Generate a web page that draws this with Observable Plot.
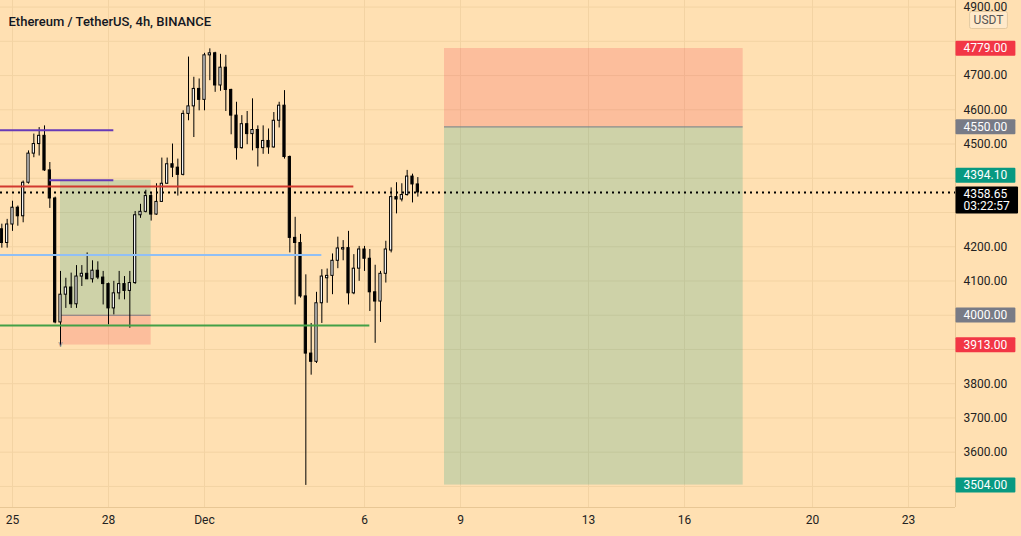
<!DOCTYPE html>
<html>
<head>
<meta charset="utf-8">
<script src="https://cdn.jsdelivr.net/npm/d3@7"></script>
<script src="https://cdn.jsdelivr.net/npm/@observablehq/plot@0.6"></script>
<style>
html, body { margin: 0; padding: 0; background: #FFE0B2; }
#chart svg { display: block; }
</style>
</head>
<body>
<div id="chart"></div>
<script>
// ---------- data ----------
const title = "Ethereum / TetherUS, 4h, BINANCE";
const firstBar = "2021-11-24T16:00:00Z";   // 4h bars, consecutive
const barHours = 4;
const opens  = [4251,4211,4265,4314,4289,4387,4472,4500,4524,4423,4341,3979,4060,4081,4032,4113,4121,4105,4130,4110,
                4091,4020,4064,4091,4071,4094,4292,4302,4348,4294,4331,4384,4441,4431,4410,4588,4610,4661,4629,4759,
                4765,4671,4723,4658,4583,4488,4558,4529,4541,4488,4509,4490,4568,4612,4462,4226,4211,4055,3888,3864,
                4035,4108,4115,4159,4192,4196,4064,4136,4192,4165,4067,4040,4121,4189,4345,4338,4351,4405,4382];
const highs  = [4266,4280,4333,4319,4392,4480,4529,4548,4553,4446,4345,4128,4108,4123,4145,4145,4182,4159,4156,4128,
                4094,4099,4128,4113,4128,4303,4324,4365,4358,4384,4459,4459,4500,4456,4597,4754,4695,4690,4765,4778,
                4768,4762,4759,4660,4622,4583,4595,4632,4553,4553,4544,4592,4622,4656,4465,4286,4236,4118,3976,4067,
                4133,4135,4179,4228,4218,4245,4177,4201,4201,4192,4146,4128,4216,4372,4387,4384,4423,4412,4402];
const lows   = [4196,4196,4245,4260,4270,4383,4460,4465,4420,4312,3975,3908,4020,4020,4020,4084,4104,4094,4104,4030,
                3972,4001,4045,4045,3962,4090,4283,4299,4275,4292,4331,4382,4402,4348,4407,4568,4519,4597,4597,4685,
                4651,4654,4595,4527,4453,4485,4498,4480,4433,4470,4470,4488,4547,4456,4182,4030,4050,3503,3825,3859,
                3976,4035,4060,4136,4159,4030,4060,4099,4128,4011,3918,3979,4094,4182,4296,4331,4348,4328,4345];
const closes = [4211,4265,4314,4289,4387,4472,4500,4524,4423,4341,3979,4060,4081,4032,4113,4121,4105,4130,4110,4091,
                4020,4064,4091,4071,4094,4292,4302,4348,4294,4331,4384,4441,4431,4410,4588,4610,4661,4629,4759,4765,
                4671,4723,4658,4583,4488,4558,4529,4541,4488,4509,4490,4568,4612,4462,4226,4211,4055,3888,3864,4035,
                4113,4115,4159,4195,4196,4064,4136,4192,4165,4067,4040,4121,4192,4345,4338,4351,4405,4382,4358.65];
const lastPrice = 4358.65;
const countdown = "03:22:57";

const xDomain = ["2021-11-24T15:00:00Z", "2021-12-24T11:15:00Z"];
const yDomain = [3438.5, 4919.2];
const xTickDates  = ["2021-11-25","2021-11-28","2021-12-01","2021-12-06","2021-12-09","2021-12-13","2021-12-16","2021-12-20","2021-12-23"];
const xTickLabels = ["25","28","Dec","6","9","13","16","20","23"];
const yGrid = [3500,3600,3700,3800,3900,4000,4100,4200,4300,4400,4500,4600,4700,4800,4900];
// price-scale labels not hidden behind a badge
const yTickLabels = [3600,3700,3800,4100,4200,4500,4600,4700,4900];

// horizontal drawn levels
const levelPrices = [4540, 4394.1, 4376, 4176, 3970];
const levelStarts = ["2021-11-24T15:00:00Z","2021-11-26T04:00:00Z","2021-11-24T15:00:00Z","2021-11-24T15:00:00Z","2021-11-24T15:00:00Z"];
const levelEnds   = ["2021-11-28T04:00:00Z","2021-11-28T04:00:00Z","2021-12-05T16:00:00Z","2021-12-04T16:00:00Z","2021-12-06T04:00:00Z"];
const levelColors = ["#673AB7","#673AB7","#D2392F","#90BFF5","#43A047"];

// position tools
const longStart = "2021-11-26T12:00:00Z", longEnd = "2021-11-29T08:00:00Z";
const longEntry = 4000, longTarget = 4394.10, longStop = 3913;
const shortStart = "2021-12-08T12:00:00Z", shortEnd = "2021-12-17T20:00:00Z";
const shortEntry = 4550, shortTarget = 3504, shortStop = 4779;

// right-axis price badges
const badgeValues = [4779, 4550, 4000, 3913, 3504];
const badgeColors = ["#F23645", "#787B86", "#787B86", "#F23645", "#089981"];
const targetBadge = 4394.10;

// ---------- build ----------
const t0 = new Date(firstBar);
const bars = opens.map((o, i) => ({
  t: new Date(+t0 + i * barHours * 3600e3), o, h: highs[i], l: lows[i], c: closes[i]
}));
const half = 50 * 60e3;
const up = bars.filter(d => d.c >= d.o), down = bars.filter(d => d.c < d.o);
const levels = levelPrices.map((p, i) => ({p, x1: new Date(levelStarts[i]), x2: new Date(levelEnds[i]), color: levelColors[i]}));
const zones = [
  {x1: new Date(longStart), x2: new Date(longEnd), y1: longEntry, y2: longTarget, color: "#089981"},
  {x1: new Date(longStart), x2: new Date(longEnd), y1: longStop, y2: longEntry, color: "#F23645"},
  {x1: new Date(shortStart), x2: new Date(shortEnd), y1: shortTarget, y2: shortEntry, color: "#089981"},
  {x1: new Date(shortStart), x2: new Date(shortEnd), y1: shortEntry, y2: shortStop, color: "#F23645"}
];
const entries = [
  {p: longEntry, x1: new Date(longStart), x2: new Date(longEnd)},
  {p: shortEntry, x1: new Date(shortStart), x2: new Date(shortEnd)}
];
const badges = badgeValues.map((v, i) => ({v, color: badgeColors[i]}));
const xTicks = xTickDates.map(d => new Date(d + "T00:00:00Z"));
const BADGE_FONT = "Roboto, Arial";
const UNIT_FONT = "Roboto, Helvetica";

const chart = Plot.plot({
  width: 1021, height: 536,
  marginTop: 0, marginRight: 66, marginBottom: 29, marginLeft: 0,
  style: {background: "#FFE0B2", fontFamily: "Roboto, sans-serif", fontSize: "12px", color: "#222"},
  x: {type: "utc", domain: xDomain.map(d => new Date(d)), axis: null},
  y: {domain: yDomain, axis: null},
  color: {type: "identity"},
  marks: [
    Plot.ruleY(yGrid, {stroke: "#F3D3A3", strokeWidth: 1}),
    Plot.ruleX(xTicks, {stroke: "#F3D3A3", strokeWidth: 1}),
    Plot.rect(zones, {x1: "x1", x2: "x2", y1: "y1", y2: "y2", fill: "color", fillOpacity: 0.2}),
    Plot.ruleY(entries, {y: "p", x1: "x1", x2: "x2", stroke: "#787B86", strokeWidth: 1}),
    Plot.ruleX(bars, {x: "t", y1: "l", y2: "h", stroke: "black", strokeWidth: 1}),
    Plot.rect(up, {x1: d => new Date(+d.t - half), x2: d => new Date(+d.t + half), y1: "o", y2: "c", fill: "white", stroke: "black", strokeWidth: 1}),
    Plot.rect(down, {x1: d => new Date(+d.t - half), x2: d => new Date(+d.t + half), y1: "o", y2: "c", fill: "black", stroke: "black", strokeWidth: 1}),
    Plot.ruleY(levels, {y: "p", x1: "x1", x2: "x2", stroke: "color", strokeWidth: 2}),
    Plot.ruleY([lastPrice], {stroke: "black", strokeWidth: 2, strokeDasharray: "2,4"}),
    Plot.text([bars[11]], {x: "t", y: () => 3915, text: () => "v", fill: "#8a8a8a", fontSize: 9}),
    Plot.ruleX([new Date(xDomain[1])], {stroke: "#E8C795"}),
    Plot.ruleY([yDomain[0]], {stroke: "#E8C795"}),
    Plot.axisX({ticks: xTicks, tickSize: 0, tickPadding: 8, label: null, fill: "#222",
      tickFormat: d => xTickLabels[xTicks.findIndex(t => +t === +d)]}),
    Plot.axisY({anchor: "right", ticks: yTickLabels, tickSize: 0, tickPadding: 8, label: null, fill: "#222",
      tickFormat: d3.format(".2f")}),
    Plot.text(badges, {frameAnchor: "right", y: "v", text: d => d3.format(".2f")(d.v), fill: "color",
      textAnchor: "start", dx: 8, fontFamily: BADGE_FONT}),
    Plot.text([targetBadge], {frameAnchor: "right", y: d => d, text: d => d3.format(".2f")(d), fill: () => "#089981",
      textAnchor: "start", dx: 8, dy: -5, fontFamily: BADGE_FONT}),
    Plot.text([lastPrice], {frameAnchor: "right", y: d => d, text: d => d3.format(".2f")(d) + "\n" + countdown,
      fill: () => "#000000", textAnchor: "start", dx: 8, dy: -3, lineAnchor: "top", lineHeight: 1.0, fontFamily: BADGE_FONT}),
    Plot.text(["USDT"], {frameAnchor: "top-right", text: d => d, dx: 33, dy: 15, textAnchor: "middle",
      fill: "#555", fontFamily: UNIT_FONT}),
    Plot.text([title], {frameAnchor: "top-left", text: d => d, dx: 8, dy: 16, textAnchor: "start",
      fontSize: 13, fontWeight: 500, fill: "#131722"})
  ]
});

document.getElementById("chart").append(chart);

const NS = "http://www.w3.org/2000/svg";
function boxify(sel, opts) {
  chart.querySelectorAll(sel).forEach(t => {
    const b = t.getBBox();
    const r = document.createElementNS(NS, "rect");
    r.setAttribute("x", b.x - opts.padX);
    r.setAttribute("y", b.y - opts.padY);
    r.setAttribute("width", b.width + 2 * opts.padX);
    r.setAttribute("height", b.height + 2 * opts.padY);
    r.setAttribute("rx", opts.rx);
    r.setAttribute("fill", opts.fill || t.getAttribute("fill"));
    if (opts.stroke) r.setAttribute("stroke", opts.stroke);
    const tr = t.getAttribute("transform");
    if (tr) r.setAttribute("transform", tr);
    t.parentNode.insertBefore(r, t);
    if (opts.textFill) t.setAttribute("fill", opts.textFill);
  });
}
boxify(`g[font-family="${BADGE_FONT}"] text`, {padX: 8, padY: 0.5, rx: 1, textFill: "white"});
boxify(`g[font-family="${UNIT_FONT}"] text`, {padX: 4, padY: 1.5, rx: 2, fill: "#FFE9CA", stroke: "#E3C9A0"});
</script>
</body>
</html>
